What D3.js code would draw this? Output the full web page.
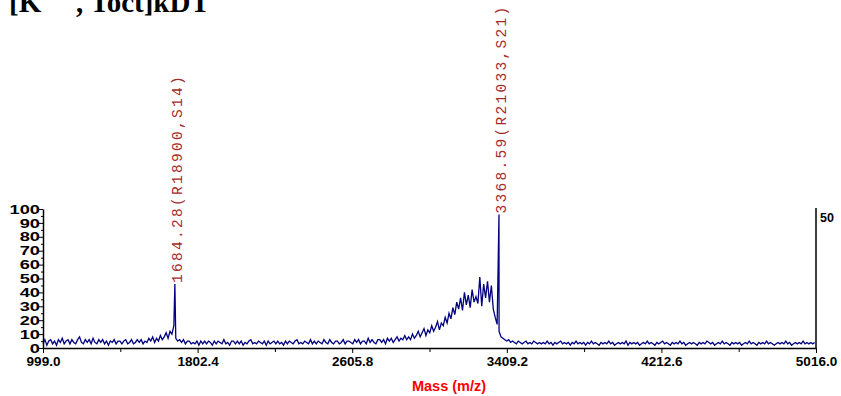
<!DOCTYPE html>
<html>
<head>
<meta charset="utf-8">
<script src="https://cdn.jsdelivr.net/npm/d3@7"></script>
<style>
  body { margin: 0; background: #fff; }
  svg { display: block; }
</style>
</head>
<body>
<svg id="chart" width="841" height="396"></svg>
<script>
const startMass = 999
const massStep = 10
const intensity = [
  3, 6, 2, 5, 6, 3, 5, 2, 6, 4, 7, 3, 5, 6, 3, 6, 4, 3, 6, 8,
  4, 3, 6, 4, 6, 3, 7, 4, 3, 6, 4, 6, 3, 5, 2, 5, 4, 6, 3, 5,
  5, 3, 5, 6, 3, 4, 6, 3, 4, 6, 4, 6, 3, 5, 4, 7, 5, 8, 4, 7,
  5, 9, 6, 8, 11, 7, 12, 10, 16, 7, 5, 6, 4, 6, 3, 5, 5, 3, 4, 3,
  5, 2, 5, 3, 5, 3, 5, 4, 2, 5, 3, 5, 4, 3, 6, 3, 4, 2, 5, 5,
  3, 5, 3, 5, 2, 4, 3, 5, 6, 3, 4, 3, 5, 4, 3, 5, 2, 5, 3, 4,
  5, 3, 5, 3, 4, 2, 5, 3, 5, 4, 3, 5, 6, 3, 4, 3, 5, 4, 3, 6,
  3, 5, 3, 5, 4, 3, 6, 4, 3, 6, 4, 3, 5, 5, 3, 4, 6, 3, 5, 5,
  4, 3, 6, 4, 6, 3, 5, 5, 3, 7, 4, 6, 4, 3, 6, 6, 4, 6, 3, 7,
  5, 7, 4, 6, 8, 5, 7, 6, 9, 6, 8, 6, 10, 7, 9, 12, 8, 11, 14, 9,
  13, 11, 16, 12, 15, 19, 13, 18, 16, 22, 18, 25, 21, 29, 24, 33, 28, 36, 27, 40,
  31, 38, 29, 42, 33, 37, 32, 51, 30, 46, 36, 48, 33, 45, 28, 22, 17, 12, 8, 7,
  6, 5, 6, 4, 5, 4, 3, 5, 4, 3, 4, 5, 3, 4, 3, 5, 4, 3, 4, 3,
  4, 3, 5, 3, 4, 2, 4, 3, 4, 5, 3, 4, 3, 4, 2, 4, 3, 5, 3, 4,
  3, 4, 2, 4, 3, 5, 3, 4, 3, 2, 4, 3, 4, 3, 5, 3, 4, 2, 3, 4,
  3, 4, 3, 5, 2, 4, 3, 4, 3, 4, 2, 3, 4, 3, 5, 3, 4, 3, 2, 4,
  3, 4, 5, 3, 4, 3, 2, 4, 3, 4, 3, 5, 3, 4, 2, 3, 4, 3, 4, 3,
  2, 4, 3, 4, 3, 5, 4, 3, 4, 2, 3, 4, 3, 5, 3, 4, 3, 2, 4, 3,
  4, 3, 4, 2, 3, 4, 3, 5, 3, 4, 3, 2, 4, 3, 4, 3, 5, 3, 4, 3,
  2, 3, 4, 3, 4, 3, 5, 3, 4, 2, 3, 4, 3, 4, 3, 5, 3, 4, 3, 4,
  3, 4
]

// Labelled peaks
const peakMasses = [1684.28, 3368.59]
const peakValues = [46, 96]
const peakLabels = ['1684.28(R18900,S14)', '3368.59(R21033,S21)']

// Axis ticks
const xTicks = [999.0, 1802.4, 2605.8, 3409.2, 4212.6, 5016.0]
const yTicks = [0, 10, 20, 30, 40, 50, 60, 70, 80, 90, 100]
const yMinorTicks = [5, 15, 25, 35, 45, 55, 65, 75, 85, 95]
const rightLabel = '50'
const xTitle = 'Mass (m/z)'

const svg = d3.select('#chart')

const x = d3.scaleLinear().domain([999, 5016]).range([43, 816])
const y = d3.scaleLinear().domain([0, 100]).range([348, 209])

// Build the points of the trace, with the peaks slotted in
const points = intensity.map((v, i) => [startMass + i * massStep, v])
peakMasses.forEach((m, i) => points.push([m, peakValues[i]]))
points.sort((a, b) => a[0] - b[0])

// Title, mostly cut off at the top like the source picture
const title = svg.append('text')
  .attr('x', 9)
  .attr('y', 12)
  .attr('font-family', 'Liberation Serif, Times New Roman, serif')
  .attr('font-weight', 'bold')
  .attr('font-size', 29)
  .attr('fill', '#000')
title.append('tspan').text('[K')
title.append('tspan').attr('dy', -18).attr('font-size', 18).text('2+')
title.append('tspan').attr('x', 76).attr('dy', 18).text(', Toct]kDT')

// Trace
const line = d3.line()
  .x(d => x(d[0]))
  .y(d => y(d[1]))

svg.append('path')
  .datum(points)
  .attr('d', line)
  .attr('fill', 'none')
  .attr('stroke', '#000080')
  .attr('stroke-width', 1.3)

// x axis
const xAxis = svg.append('g')
  .attr('transform', `translate(0,${y(0)})`)
  .call(d3.axisBottom(x).tickValues(xTicks).tickFormat(d3.format('.1f')).tickSize(5).tickSizeOuter(0))
xAxis.select('.domain').attr('stroke-width', 1.5)
xAxis.selectAll('text')
  .attr('font-family', 'Liberation Sans, Arial, sans-serif')
  .attr('font-weight', 'bold')
  .attr('font-size', 13.5)
  .attr('fill', '#000')
  .attr('dy', 0)
  .attr('y', 18)

const xMinor = xTicks.slice(1).map((t, i) => (t + xTicks[i]) / 2)
svg.append('g')
  .attr('transform', `translate(0,${y(0)})`)
  .call(d3.axisBottom(x).tickValues(xMinor).tickFormat('').tickSize(4).tickSizeOuter(0))
  .select('.domain').remove()

// y axis
const yAxis = svg.append('g')
  .attr('transform', `translate(${x(999)},0)`)
  .call(d3.axisLeft(y).tickValues(yTicks).tickSize(4).tickSizeOuter(0))
yAxis.select('.domain').attr('stroke-width', 1.5)
yAxis.selectAll('text')
  .attr('font-family', 'Liberation Sans, Arial, sans-serif')
  .attr('font-weight', 'bold')
  .attr('font-size', 13)
  .attr('fill', '#000')
  .attr('x', -2.2)
  .attr('transform', 'scale(1.4,1)')

svg.append('g')
  .attr('transform', `translate(${x(999)},0)`)
  .call(d3.axisLeft(y).tickValues(yMinorTicks).tickFormat('').tickSize(2).tickSizeOuter(0))
  .select('.domain').remove()

// right axis line with its label
svg.append('line')
  .attr('x1', x(5016)).attr('x2', x(5016))
  .attr('y1', y(100) - 1).attr('y2', y(0))
  .attr('stroke', '#000')
  .attr('stroke-width', 1.5)

svg.append('text')
  .attr('x', x(5016) + 4)
  .attr('y', 222)
  .attr('font-family', 'Liberation Sans, Arial, sans-serif')
  .attr('font-weight', 'bold')
  .attr('font-size', 12.5)
  .text(rightLabel)

// axis title
svg.append('text')
  .attr('x', 449)
  .attr('y', 391)
  .attr('text-anchor', 'middle')
  .attr('font-family', 'Liberation Sans, Arial, sans-serif')
  .attr('font-weight', 'bold')
  .attr('font-size', 14.5)
  .attr('fill', '#ff0000')
  .text(xTitle)

// peak labels, rotated over the peaks
svg.selectAll('.peak-label')
  .data(peakMasses)
  .enter()
  .append('text')
  .attr('class', 'peak-label')
  .attr('transform', (d, i) => `translate(${x(d) + 7},${y(peakValues[i]) - 1}) rotate(-90)`)
  .attr('font-family', 'Liberation Mono, Courier New, monospace')
  .attr('font-size', 14.5)
  .attr('letter-spacing', 2.3)
  .attr('fill', '#a52a2a')
  .text((d, i) => peakLabels[i])
</script>
</body>
</html>
